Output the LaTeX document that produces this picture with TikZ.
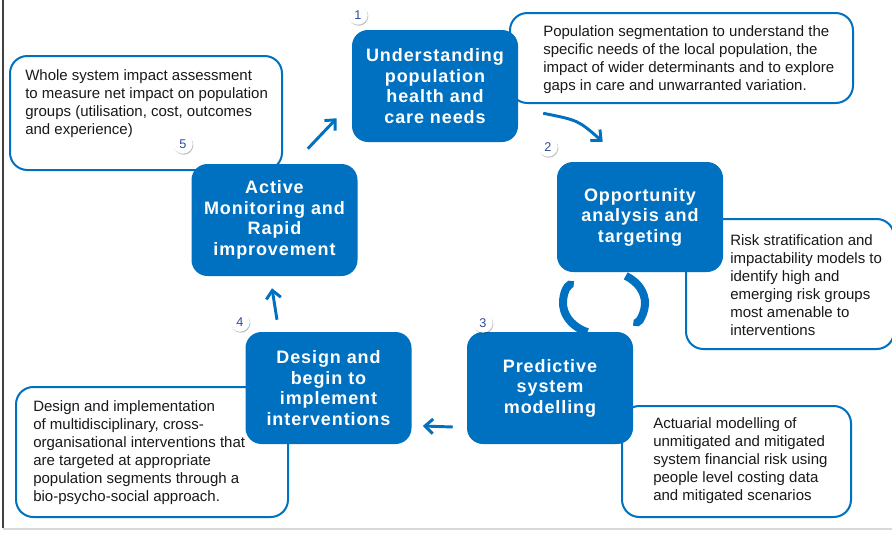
\documentclass[tikz,border=0pt]{standalone}
\usepackage{fontspec}
\setmainfont{Liberation Sans}
\newfontfamily\stepfont{Liberation Sans}[LetterSpace=5]
\usetikzlibrary{arrows.meta, calc, positioning, shadows}
\definecolor{stepblue}{HTML}{0070C0}
\definecolor{numblue}{HTML}{2F4A9C}
\definecolor{edgegray}{HTML}{404040}

\begin{document}
\begin{tikzpicture}
        [x=0.75pt, y=-0.75pt,
         stepsty/.style={rectangle,
                         rounded corners=12pt,
                         inner sep=0pt,
                         minimum width=124.5pt,
                         minimum height=84pt,
                         fill=stepblue,
                         text=white,
                         align=center,
                         font=\stepfont\bfseries\fontsize{13.5}{15.4}\selectfont},
         infosty/.style={rectangle,
                         rounded corners=13pt,
                         inner sep=0pt,
                         line width=1.5pt,
                         draw=stepblue,
                         fill=white},
         textsty/.style={inner sep=0pt,
                         anchor=west,
                         align=left,
                         text=black!90,
                         font=\fontsize{11.25}{13.5}\selectfont},
         numsty/.style={circle,
                        inner sep=0pt,
                        minimum size=14.5pt,
                        fill=white,
                        text=numblue,
                        font=\fontsize{9.5}{9.5}\selectfont,
                        drop shadow={shadow xshift=0.5pt, shadow yshift=-0.8pt,
                                     fill=black, opacity=0.25}},
         post/.style={-{Straight Barb[length=6pt, width=11pt]}, draw=stepblue, line width=2.2pt},
         cyclesty/.style={-{Triangle Cap}, draw=stepblue, line width=6pt}]

        \useasboundingbox (0,0) rectangle (892,532);
        \draw[edgegray, line width=1.5pt] (3,0) -- (3,528);
        \draw[gray!30, line width=1.5pt] (3,529) -- (892,529);

        % side notes
        \node[infosty, minimum width=343*0.75pt, minimum height=90*0.75pt] (seg box) at (681.5,58) {};
        \node[textsty] (seg text) at (543,60)
                {Population segmentation to understand the\\specific needs of the local population, the\\impact of wider determinants and to explore\\gaps in care and unwarranted variation.};

        \node[infosty, minimum width=208*0.75pt, minimum height=130*0.75pt] (risk box) at (790,284) {};
        \node[textsty] (risk text) at (730,285)
                {Risk stratification and\\impactability models to\\identify high and\\emerging risk groups\\most amenable to\\interventions};

        \node[infosty, minimum width=229*0.75pt, minimum height=111*0.75pt] (cost box) at (736.5,461.5) {};
        \node[textsty] (cost text) at (653,461)
                {Actuarial modelling of\\unmitigated and mitigated\\system financial risk using\\people level costing data\\and mitigated scenarios};

        \node[infosty, minimum width=272*0.75pt, minimum height=130*0.75pt] (design box) at (152,452) {};
        \node[textsty] (design text) at (33,452.5)
                {Design and implementation\\of multidisciplinary, cross-\\organisational interventions that\\are targeted at appropriate\\population segments through a\\bio-psycho-social approach.};

        \node[infosty, minimum width=272*0.75pt, minimum height=114*0.75pt] (impact box) at (146,113) {};
        \node[textsty] (impact text) at (25,103.5)
                {Whole system impact assessment\\to measure net impact on population\\groups (utilisation, cost, outcomes\\and experience)};

        % cycle steps
        \node[stepsty] (understand cell) at (435,86) {Understanding\\population\\health and\\care needs};
        \node[stepsty, minimum height=82.5pt] (opportunity cell) at (640,217) {Opportunity\\analysis and\\targeting};
        \node[stepsty] (predict cell) at (550,388) {Predictive\\system\\modelling};
        \node[stepsty] (design cell) at (328.5,388) {Design and\\begin to\\implement\\interventions};
        \node[stepsty] (active cell) at (274.5,220) {Active\\Monitoring and\\Rapid\\improvement};

        \draw[post] ($(understand cell.south east)+(25,-29)$)
                .. controls ($(understand cell.south east)+(60,-22)$) .. ($(opportunity cell.north west)+(46,-20)$);
        \draw[post] ($(predict cell.west)+(-14,39)$) -- ($(design cell.east)+(11,38)$);
        \draw[post] ($(design cell.north)+(-51.5,-12)$) -- ($(active cell.south)+(-2.5,12)$);
        \draw[post] ($(active cell.north east)+(-50,-15)$) -- ($(understand cell.south west)+(-15,-24)$);

        \coordinate (cycle centre) at (604,303);
        \draw[cyclesty] ([shift={(114:41 and 32)}]cycle centre)
                arc[start angle=114, end angle=223, x radius=41, y radius=32];
        \draw[cyclesty] ([shift={(-58:41 and 32)}]cycle centre)
                arc[start angle=-58, end angle=45, x radius=41, y radius=32];

        % step numbers
        \node[numsty] (num 1) at (358,15) {1};
        \node[numsty] (num 2) at (548,147) {2};
        \node[numsty] (num 3) at (483,323) {3};
        \node[numsty] (num 4) at (240,322) {4};
        \node[numsty] (num 5) at (183,144) {5};
\end{tikzpicture}
\end{document}
